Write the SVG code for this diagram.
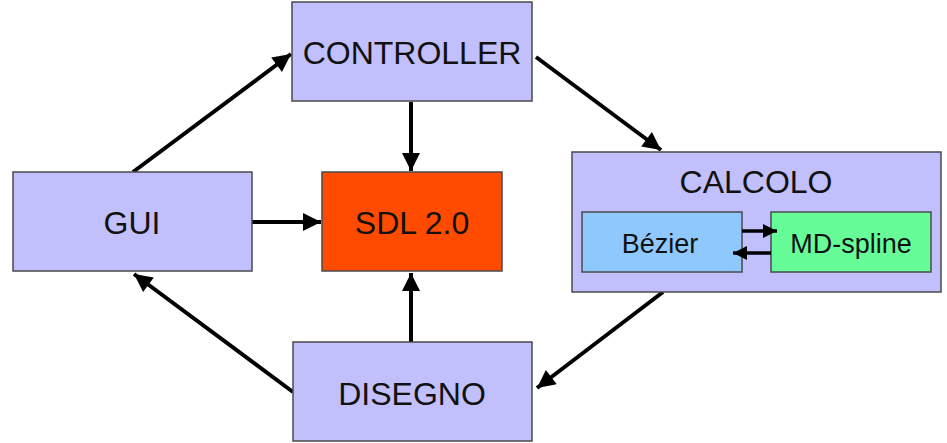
<svg xmlns="http://www.w3.org/2000/svg" width="947" height="443" viewBox="0 0 947 443">
<defs>
<style>
.box{stroke:#4a4a4a;stroke-width:1.5}
.lav{fill:#c2c0fc}
.t{font-family:"Liberation Sans",Arial,sans-serif;font-size:32px;fill:#111;text-anchor:middle}
.s{font-family:"Liberation Sans",Arial,sans-serif;font-size:27px;fill:#111;text-anchor:middle}
.c{stroke:#000;stroke-width:4;fill:none;marker-end:url(#ah)}
.cs{stroke:#000;stroke-width:3.5;fill:none;marker-end:url(#ahs)}
</style>
<marker id="ah" viewBox="0 0 10 10" refX="10" refY="5" markerWidth="5" markerHeight="4.5" markerUnits="strokeWidth" orient="auto">
<path d="M0,0 L10,5 L0,10 Z" fill="#000"/>
</marker>
<marker id="ahs" viewBox="0 0 10 10" refX="10" refY="5" markerWidth="5" markerHeight="4" markerUnits="strokeWidth" orient="auto">
<path d="M0,0 L10,5 L0,10 Z" fill="#000"/>
</marker>
</defs>
<g id="connectors">
<line class="c" x1="133" y1="172" x2="291" y2="54"/>
<line class="c" x1="536" y1="57" x2="661" y2="150"/>
<line class="c" x1="411" y1="102" x2="411" y2="171"/>
<line class="c" x1="252" y1="222" x2="321" y2="222"/>
<line class="c" x1="411" y1="342" x2="411" y2="273"/>
<line class="c" x1="663" y1="292" x2="537" y2="388"/>
<line class="c" x1="293" y1="392" x2="134" y2="274"/>
</g>
<g id="controller"><rect class="box lav" x="292" y="2" width="240" height="99"/><text class="t" x="412" y="64">CONTROLLER</text></g>
<g id="gui"><rect class="box lav" x="13" y="172" width="239" height="99"/><text class="t" x="132" y="234">GUI</text></g>
<g id="sdl"><rect class="box" fill="#ff4b00" x="322" y="172" width="180" height="99"/><text class="t" x="412" y="234">SDL 2.0</text></g>
<g id="disegno"><rect class="box lav" x="293" y="342" width="239" height="99"/><text class="t" x="412" y="405">DISEGNO</text></g>
<g id="calcolo"><rect class="box lav" x="572" y="152" width="369" height="140"/><text class="t" x="756" y="193">CALCOLO</text>
<g id="bezier"><rect class="box" fill="#8ec8fc" x="582" y="212" width="160" height="60"/><text class="s" x="660" y="253">Bézier</text></g>
<g id="mdspline"><rect class="box" fill="#66fd99" x="771" y="212" width="160" height="60"/><text class="s" x="851" y="253">MD-spline</text></g>
</g>
<g id="inner-connectors">
<line class="cs" x1="742" y1="231" x2="777" y2="231"/>
<line class="cs" x1="771" y1="253" x2="733" y2="253"/>
</g>
</svg>
